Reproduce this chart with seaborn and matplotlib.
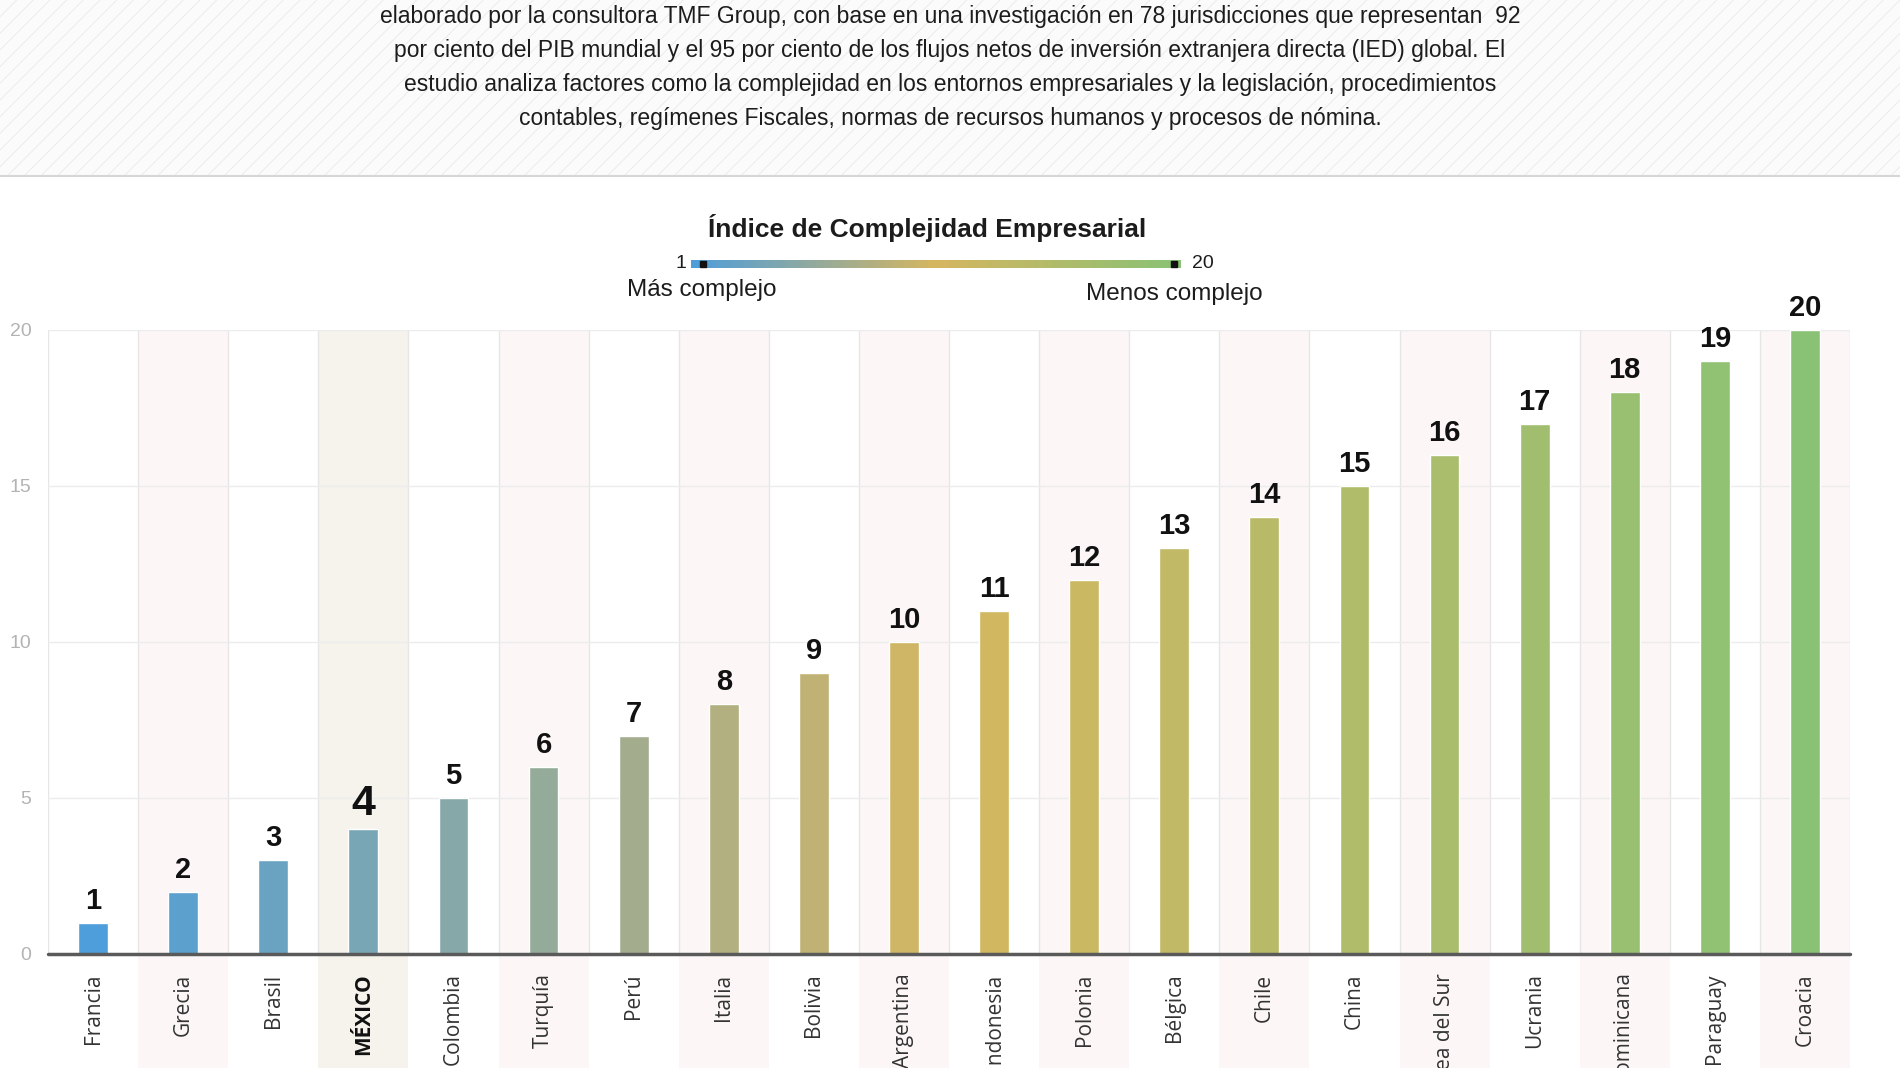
import numpy as np
import pandas as pd
import seaborn as sns
import matplotlib.pyplot as plt
from matplotlib.colors import LinearSegmentedColormap
from matplotlib.patches import Rectangle
from matplotlib.lines import Line2D

# data
countries = ['Francia', 'Grecia', 'Brasil', 'MÉXICO', 'Colombia', 'Turquía', 'Perú',
             'Italia', 'Bolivia', 'Argentina', 'Indonesia', 'Polonia', 'Bélgica',
             'Chile', 'China', 'Corea del Sur', 'Ucrania', 'República Dominicana',
             'Paraguay', 'Croacia']
ranking = [1, 2, 3, 4, 5, 6, 7, 8, 9, 10, 11, 12, 13, 14, 15, 16, 17, 18, 19, 20]
yticks = [0, 5, 10, 15, 20]
highlight = 'MÉXICO'
title = 'Índice de Complejidad Empresarial'
scale_ends = ['1', '20']
scale_labels = ['Más complejo', 'Menos complejo']
intro_lines = [
    'elaborado por la consultora TMF Group, con base en una investigación en 78 jurisdicciones que representan  92',
    'por ciento del PIB mundial y el 95 por ciento de los flujos netos de inversión extranjera directa (IED) global. El',
    'estudio analiza factores como la complejidad en los entornos empresariales y la legislación, procedimientos',
    'contables, regímenes Fiscales, normas de recursos humanos y procesos de nómina.',
]

# style
INK, GREY_TXT, GRID = '#1c1c1c', '#b3b3b3', '#e6e6e6'
SHADE, SHADE_MX = '#fcf7f6', '#f5f3ec'
TXT_FONT = ['Liberation Sans', 'DejaVu Sans']
LABELS = ['Open Sans', 'DejaVu Sans']

sns.set_theme(style='white')
plt.rcParams['font.family'] = TXT_FONT
plt.rcParams['hatch.linewidth'] = 0.5

cmap = LinearSegmentedColormap.from_list(
    'complejidad', ['#4e9edb', '#d6b660', '#89c275'])
lo, hi = min(ranking), max(ranking)
bar_colors = [cmap((v - lo) / (hi - lo)) for v in ranking]
df = pd.DataFrame({'pais': countries, 'indice': ranking})

W, H = 1900, 1068
fx = lambda px: px / W
fy = lambda py: 1 - py / H

fig = plt.figure(figsize=(19, 10.68), dpi=100, facecolor='white')

# hatched intro band
fig.patches.append(Rectangle((0, fy(176)), 1, 176 / H, transform=fig.transFigure,
                             facecolor='#fbfbfb', edgecolor='#e6e6e6', hatch='//', lw=0))
fig.add_artist(Line2D([0, 1], [fy(176)] * 2, color='#d6d6d6', lw=1.5))
for i, line in enumerate(intro_lines):
    fig.text(0.5, fy(17 + 34 * i), line, ha='center', va='center',
             fontsize=16.5, color=INK)

# legend header
fig.text(fx(927), fy(228), title, ha='center', va='center', fontsize=19,
         fontweight='bold', color=INK)
cax = fig.add_axes([fx(691), fy(268), fx(490), 8 / H])
cax.imshow(np.linspace(0, 1, 256)[None, :], aspect='auto', cmap=cmap)
cax.plot([0.024, 0.986], [0.5, 0.5], 's', color='#111111', ms=5, transform=cax.transAxes)
cax.axis('off')
fig.text(fx(686), fy(264), scale_ends[0], ha='right', va='center', fontsize=14, color=INK)
fig.text(fx(1192), fy(264), scale_ends[1], ha='left', va='center', fontsize=14, color=INK)
fig.text(fx(702), fy(290), scale_labels[0], ha='center', va='center', fontsize=17.5, color=INK)
fig.text(fx(1174), fy(294), scale_labels[1], ha='center', va='center', fontsize=17.5, color=INK)

# main chart
ax = fig.add_axes([fx(48), fy(954), fx(1802), (954 - 330) / H])
for i, c in enumerate(countries):
    if c == highlight:
        ax.axvspan(i - 0.5, i + 0.5, ymin=-0.3, ymax=1, color=SHADE_MX, lw=0,
                   zorder=0, clip_on=False)
    elif i % 2 == 1:
        ax.axvspan(i - 0.5, i + 0.5, ymin=-0.3, ymax=1, color=SHADE, lw=0,
                   zorder=0, clip_on=False)
for b in np.arange(-0.5, len(countries), 1):
    ax.axvline(b, color=GRID, lw=1, zorder=1)
for t in yticks[1:]:
    ax.axhline(t, color='#ececec', lw=1, zorder=1)

sns.barplot(data=df, x='pais', y='indice', hue='pais', palette=bar_colors,
            width=0.33, saturation=1, legend=False, ax=ax, zorder=3)
ax.axhline(0, color='#5a5a5a', lw=2.5, zorder=4, clip_on=False)

for i, (c, v) in enumerate(zip(countries, ranking)):
    ax.text(i, v + 0.45, str(v), ha='center', va='baseline',
            fontsize=31 if c == highlight else 21, fontweight='bold',
            color='#111111', clip_on=False, zorder=5)

ax.set_xlim(-0.5, len(countries) - 0.5)
ax.set_ylim(0, 20)
ax.set_xlabel('')
ax.set_ylabel('')
sns.despine(ax=ax, left=True, bottom=True)
ax.set_yticks(yticks)
ax.set_yticklabels([str(t) for t in yticks])
ax.tick_params(axis='y', length=0, labelsize=14, labelcolor=GREY_TXT, pad=12)
ax.set_xticks(range(len(countries)))
ax.set_xticklabels(countries, rotation=90, fontsize=15, color='#333333', family=LABELS)
ax.tick_params(axis='x', length=0, pad=14)
for lbl in ax.get_xticklabels():
    if lbl.get_text() == highlight:
        lbl.set_fontweight('bold')
        lbl.set_color('#111111')
ax.set_facecolor('none')
ax.grid(False)

fig.savefig('out.png', dpi=100, facecolor='white')
